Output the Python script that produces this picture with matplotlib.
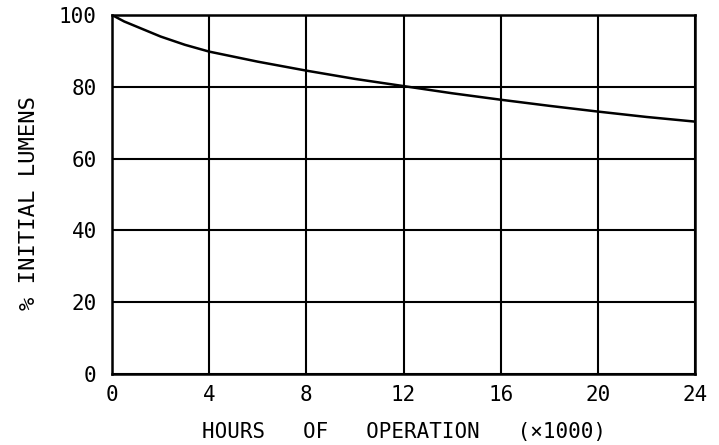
import matplotlib.pyplot as plt

hours = [0, 0.5, 1, 2, 3, 4, 6, 8, 10, 12, 14, 16, 18, 20, 22, 24]
lumens = [100, 98.2, 96.8, 94.0, 91.7, 89.8, 87.0, 84.5, 82.2, 80.2, 78.2, 76.4, 74.7, 73.1, 71.6, 70.3]
xticks = [0, 4, 8, 12, 16, 20, 24]
yticks = [0, 20, 40, 60, 80, 100]

plt.rcParams['font.family'] = ['DejaVu Sans Mono']

fig = plt.figure(figsize=(7.19, 4.45), dpi=100)
ax = fig.add_axes([0.1558, 0.1596, 0.8108, 0.8067])

ax.plot(hours, lumens, color='black', lw=1.8)
ax.set_xlim(0, 24)
ax.set_ylim(0, 100)
ax.set_xticks(xticks)
ax.set_yticks(yticks)
ax.grid(True, color='black', lw=1.5)
for s in ax.spines.values():
    s.set_linewidth(1.8)
ax.tick_params(length=0, labelsize=15)
ax.tick_params(axis='y', pad=11)
ax.tick_params(axis='x', pad=8)
ax.set_xlabel('HOURS   OF   OPERATION   (×1000)', fontsize=15)
ax.set_ylabel('% INITIAL LUMENS', fontsize=16)
ax.yaxis.set_label_coords(-0.125, 0.476)
ax.xaxis.set_label_coords(0.5, -0.135)

fig.savefig('out.png', dpi=100)
